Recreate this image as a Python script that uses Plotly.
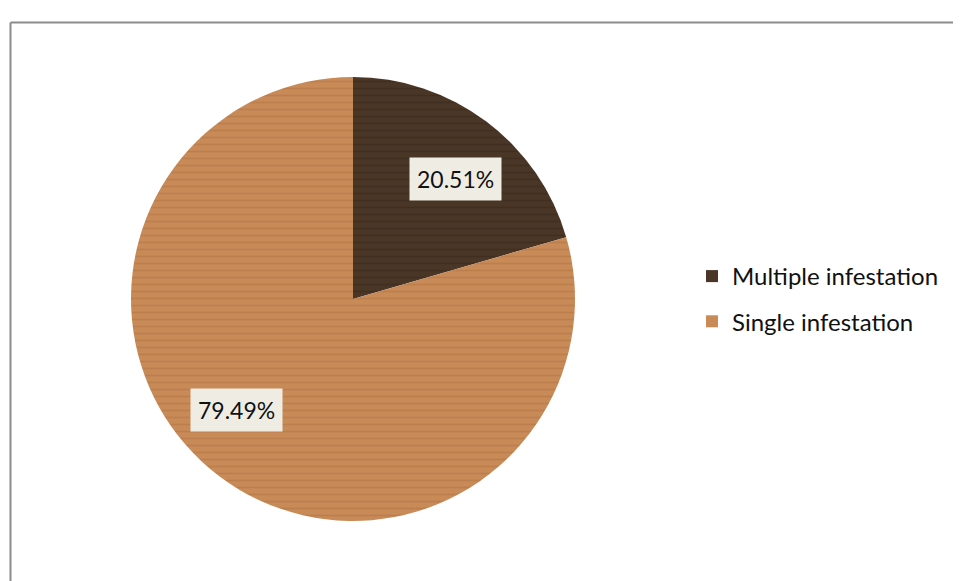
import math
import plotly.graph_objects as go

labels = ["Multiple infestation", "Single infestation"]
values = [20.51, 79.49]
label_text = ["20.51%", "79.49%"]
colors = ["#4a3626", "#c88a57"]
grain = ["#36271b", "#ad7241"]

# page body has an 8px margin; work in reference pixel coords shifted by it
OFF = 8
W, H = 961 - OFF, 581 - OFF
cx, cy, r = 353 - OFF, 299 - OFF, 222

fig = go.Figure()
fig.add_trace(go.Pie(
    labels=labels, values=values, sort=False, direction="clockwise", rotation=0,
    marker=dict(colors=colors, line=dict(width=0),
                pattern=dict(shape="-", fgcolor=grain, size=7, solidity=0.25, fillmode="overlay")),
    textinfo="none", hoverinfo="label+percent", showlegend=False,
    domain=dict(x=[(cx - r) / W, (cx + r) / W], y=[1 - (cy + r) / H, 1 - (cy - r) / H]),
))

# legend entries (one per slice, same colours)
for lab, col in zip(labels, colors):
    fig.add_trace(go.Scatter(x=[None], y=[None], mode="markers", name=lab, legendgroup=lab,
                             marker=dict(symbol="square", size=15, color=col),
                             hoverinfo="skip"))

# data labels placed along each slice's mid angle
total = sum(values)
start = 0.0
offsets = [(0.71, 3.7), (0.725, 9.6)]
for v, t, (frac, dang) in zip(values, label_text, offsets):
    mid = (start + v / 2) / total * 360 + dang
    start += v
    px = cx + frac * r * math.sin(math.radians(mid))
    py = cy - frac * r * math.cos(math.radians(mid))
    fig.add_annotation(x=px / W, y=1 - py / H, xref="paper", yref="paper", text=t,
                       xanchor="center", yanchor="middle",
                       showarrow=False, bgcolor="#efede3", borderpad=7,
                       font=dict(size=23, color="#111111", family="Lato, Open Sans, sans-serif"))

# frame of the chart area
fx, fy = 10.5 - OFF, 22.5 - OFF
fig.add_shape(type="line", xref="paper", yref="paper", x0=fx / W, x1=fx / W,
              y0=-0.05, y1=1 - fy / H, line=dict(color="#8c8c8c", width=2))
fig.add_shape(type="line", xref="paper", yref="paper", x0=fx / W, x1=1.05,
              y0=1 - fy / H, y1=1 - fy / H, line=dict(color="#8c8c8c", width=2))

fig.update_layout(
    width=W, height=H, margin=dict(l=0, r=0, t=0, b=0),
    paper_bgcolor="white", plot_bgcolor="white",
    xaxis=dict(visible=False), yaxis=dict(visible=False),
    showlegend=True,
    legend=dict(x=(692 - OFF) / W, y=1 - (254 - OFF) / H, xanchor="left", yanchor="top",
                font=dict(size=24, color="#111111", family="Lato, Open Sans, sans-serif"),
                tracegroupgap=11, itemsizing="constant", bgcolor="rgba(0,0,0,0)"),
)

fig.write_html("out.html")
